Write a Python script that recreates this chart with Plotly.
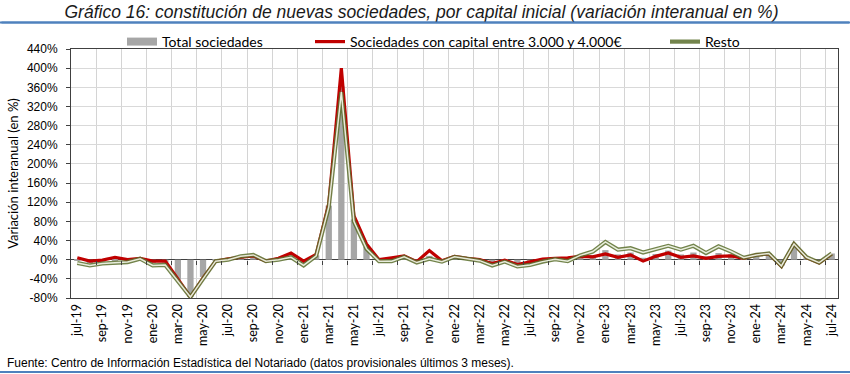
import plotly.graph_objects as go

# ---------------- data ----------------
meses = [
    "jul-19", "ago-19", "sep-19", "oct-19", "nov-19", "dic-19",
    "ene-20", "feb-20", "mar-20", "abr-20", "may-20", "jun-20",
    "jul-20", "ago-20", "sep-20", "oct-20", "nov-20", "dic-20",
    "ene-21", "feb-21", "mar-21", "abr-21", "may-21", "jun-21",
    "jul-21", "ago-21", "sep-21", "oct-21", "nov-21", "dic-21",
    "ene-22", "feb-22", "mar-22", "abr-22", "may-22", "jun-22",
    "jul-22", "ago-22", "sep-22", "oct-22", "nov-22", "dic-22",
    "ene-23", "feb-23", "mar-23", "abr-23", "may-23", "jun-23",
    "jul-23", "ago-23", "sep-23", "oct-23", "nov-23", "dic-23",
    "ene-24", "feb-24", "mar-24", "abr-24", "may-24", "jun-24",
    "jul-24",
]

total_sociedades = [
    -2, -7, -4, -1, -2, 2,
    -7, -6, -42, -78, -36, -2,
    1, 6, 9, -3, 2, 9,
    -7, 9, 113, 362, 84, 27,
    -1, 0, 7, -5, 8, -3,
    6, 2, -1, -10, -3, -12,
    -8, -2, 2, 1, 8, 10,
    20, 11, 15, 4, 12, 19,
    11, 15, 7, 14, 11, 4,
    10, 13, -13, 33, 5, -6,
    13,
]

capital_3000_4000 = [
    4, -3, -1, 5, 0, 3,
    -3, -3, -40, -78, -38, -3,
    2, 5, 8, -3, 3, 14,
    -3, 11, 117, 400, 92, 33,
    0, 4, 8, -4, 19, -2,
    7, 3, 0, -8, -1, -10,
    -5, 1, 3, 4, 7, 6,
    12, 5, 10, -3, 7, 14,
    5, 8, 3, 7, 8, 3,
    10, 12, -14, 33, 4, -7,
    12,
]

resto = [
    -7, -12, -8, -6, -5, 2,
    -12, -11, -45, -78, -40, -3,
    0, 7, 10, -3, 0, 5,
    -12, 8, 110, 350, 80, 23,
    -3, -3, 6, -6, 2, -4,
    6, 2, -2, -12, -4, -14,
    -11, -4, 1, -3, 9, 17,
    37, 21, 24, 15, 22, 29,
    21, 29, 14, 28, 17, 4,
    10, 13, -13, 33, 5, -6,
    13,
]

y_ticks = list(range(-80, 441, 40))
y_tick_labels = [f"{v}%" for v in y_ticks]
y_min, y_max = -80, 440

# ---------------- derived positions ----------------
idx = list(range(len(meses)))
label_pos = idx[::2]
label_txt = meses[::2]
boundaries = [i + 1.5 for i in idx[::2] if i + 1.5 < len(meses) - 0.5]

# pixel layout helpers (figure 850 x 374, body margin removed)
W, H = 850, 374
PL, PR, PT, PB = 71, 838, 49, 298          # plot area in pixels
ML, MR, MT, MB = PL, W - PR, PT, H - PB
PW, PH = PR - PL, PB - PT


def px_x(p):
    return (p - PL) / PW


def px_y(p):
    return (PB - p) / PH


calibri_like = "Lato, 'Open Sans', sans-serif"
arial_like = "'Liberation Sans', Arial, sans-serif"
rule_color = "#4f81bd"

fig = go.Figure()

# bars
fig.add_trace(go.Bar(
    x=idx, y=total_sociedades, width=0.5,
    marker=dict(color="#a6a6a6", line=dict(width=0)),
    name="Total sociedades", showlegend=False, hoverinfo="skip",
))
# legend entry for bars (line-shaped swatch)
fig.add_trace(go.Scatter(
    x=[None], y=[None], mode="lines",
    line=dict(color="#a6a6a6", width=8),
    name="Total sociedades", legend="legend",
))
# red line
fig.add_trace(go.Scatter(
    x=idx, y=capital_3000_4000, mode="lines",
    line=dict(color="#c00000", width=3.2),
    name="Sociedades con capital entre 3.000 y 4.000€", legend="legend2",
))
# resto: double line (outer olive + pale core), on top
fig.add_trace(go.Scatter(
    x=idx, y=resto, mode="lines", xaxis="x2",
    line=dict(color="rgba(90,110,45,0.85)", width=4.2),
    name="Resto", legend="legend3",
))
fig.add_trace(go.Scatter(
    x=idx, y=resto, mode="lines", xaxis="x2",
    line=dict(color="rgba(242,246,233,0.92)", width=1.5),
    name="Resto", showlegend=False,
))

legend_common = dict(
    orientation="h", yanchor="middle", y=px_y(42), xanchor="left",
    bgcolor="rgba(0,0,0,0)", borderwidth=0,
    font=dict(family=calibri_like, size=14, color="#000000"),
    itemwidth=30,
)


def rule(y_px):
    # horizontal full-width rule drawn as an arrow-less annotation line
    return dict(text=" ", font=dict(size=1), xref="paper", yref="paper",
                x=px_x(W), y=px_y(y_px), ax=-W, ay=0, axref="pixel", ayref="pixel",
                showarrow=True, arrowhead=0, arrowwidth=2, arrowcolor=rule_color,
                standoff=0, startstandoff=0)


fig.update_layout(
    width=W, height=H,
    margin=dict(l=ML, r=MR, t=MT, b=MB, autoexpand=False),
    paper_bgcolor="white", plot_bgcolor="white",
    bargap=0.5,
    title=dict(
        text="Gráfico 16: constitución de nuevas sociedades, por capital inicial (variación interanual en %)",
        font=dict(family=arial_like, size=17.5, color="#1a1a1a", style="italic"),
        xref="container", x=421.5 / W, xanchor="center",
        yref="container", y=1 - 12 / H, yanchor="middle",
    ),
    legend=dict(legend_common, x=px_x(122)),
    legend2=dict(legend_common, x=px_x(310)),
    legend3=dict(legend_common, x=px_x(665)),
    xaxis=dict(
        range=[-0.5, len(meses) - 0.5],
        tickmode="array", tickvals=label_pos, ticktext=label_txt,
        tickangle=-90, ticks="", showgrid=False, zeroline=False,
        tickfont=dict(family=calibri_like, size=12.5, color="#000000"),
        showline=True, linecolor="#404040", linewidth=1, mirror=True,
        minor=dict(tickmode="array", tickvals=boundaries, showgrid=True,
                   gridcolor="#d4d4d4", gridwidth=1, ticks=""),
    ),
    xaxis2=dict(
        overlaying="x", matches="x", anchor="free",
        position=(0 - y_min) / (y_max - y_min),
        tickmode="array", tickvals=boundaries, showticklabels=False,
        ticks="outside", ticklen=4, tickcolor="#404040",
        showgrid=False, zeroline=False, showline=False,
    ),
    yaxis=dict(
        range=[y_min, y_max], tickmode="array", tickvals=y_ticks,
        ticktext=y_tick_labels, ticks="outside", ticklen=4, tickcolor="#404040",
        ticklabelstandoff=6,
        tickfont=dict(family=arial_like, size=12, color="#000000"),
        gridcolor="#d9d9d9", gridwidth=1,
        zeroline=True, zerolinecolor="#404040", zerolinewidth=1,
        showline=True, linecolor="#404040", linewidth=1, mirror=True,
        title=dict(text="Variación interanual (en %)", standoff=5,
                   font=dict(family=calibri_like, size=13, color="#000000")),
    ),
    shapes=[
        dict(type="line", xref="paper", yref="paper",
             x0=px_x(0), x1=px_x(W), y0=px_y(22.5), y1=px_y(22.5),
             line=dict(color=rule_color, width=2)),
        dict(type="line", xref="paper", yref="paper",
             x0=px_x(0), x1=px_x(W), y0=px_y(372), y1=px_y(372),
             line=dict(color=rule_color, width=2)),
    ],
    annotations=[
        dict(text="Fuente: Centro de Información Estadística del Notariado (datos provisionales últimos 3 meses).",
             xref="paper", yref="paper", x=px_x(5), y=px_y(363),
             xanchor="left", yanchor="middle", showarrow=False,
             font=dict(family=arial_like, size=12, color="#000000")),
        rule(22.5),
        rule(372),
    ],
)

fig.write_html(
    "out.html",
    config={"displayModeBar": False},
    post_script="document.body.style.margin='0';",
)
